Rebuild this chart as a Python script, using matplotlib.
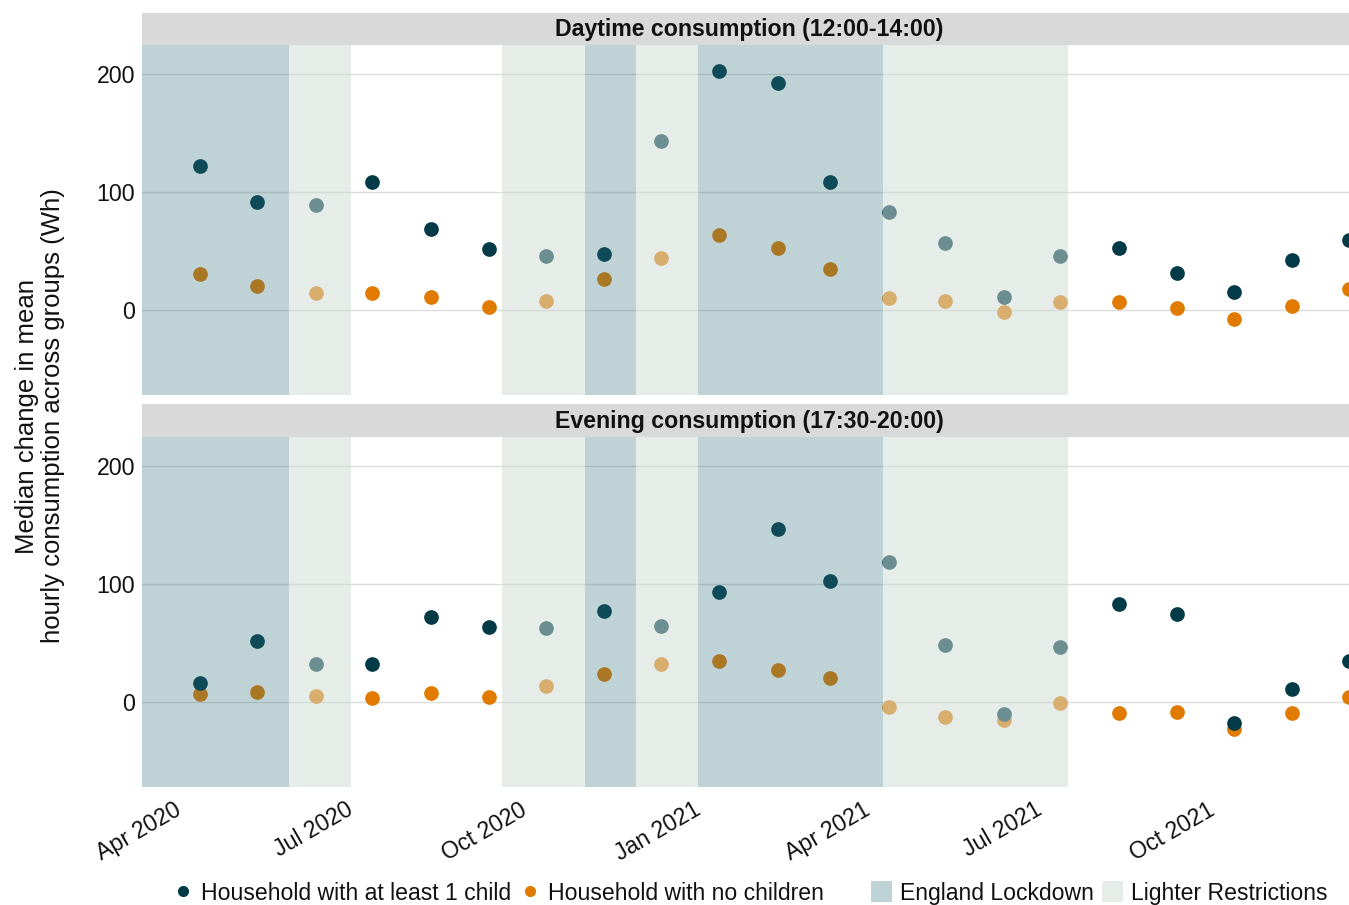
import matplotlib
matplotlib.use("Agg")
import matplotlib.pyplot as plt
from matplotlib.lines import Line2D
from matplotlib.patches import Patch
import pandas as pd

# ---------------- data ----------------
months = ["2020-04", "2020-05", "2020-06", "2020-07", "2020-08", "2020-09",
          "2020-10", "2020-11", "2020-12", "2021-01", "2021-02", "2021-03",
          "2021-04", "2021-05", "2021-06", "2021-07", "2021-08", "2021-09",
          "2021-10", "2021-11", "2021-12"]

day_child = [122, 91, 89, 108, 68, 51, 45, 47, 143, 202, 192, 108,
             83, 56, 11, 45, 52, 31, 15, 42, 59]
day_none = [30, 20, 14, 14, 11, 2, 7, 26, 44, 63, 52, 34,
            10, 7, -2, 6, 6, 1, -8, 3, 17]
eve_child = [16, 51, 32, 32, 72, 63, 62, 77, 64, 93, 146, 102,
             118, 48, -11, 46, 83, 74, -18, 11, 34]
eve_none = [6, 8, 5, 3, 7, 4, 13, 23, 32, 34, 27, 20,
            -5, -13, -16, -1, -10, -9, -23, -10, 4]

lockdown_periods = [("2020-03-01", "2020-06-01"),
                    ("2020-11-05", "2020-12-02"),
                    ("2021-01-04", "2021-04-12")]
lighter_periods = [("2020-06-01", "2020-07-04"),
                   ("2020-09-22", "2020-11-05"),
                   ("2020-12-02", "2021-01-04"),
                   ("2021-04-12", "2021-07-19")]

tick_dates = ["2020-04-01", "2020-07-01", "2020-10-01", "2021-01-01",
              "2021-04-01", "2021-07-01", "2021-10-01"]
tick_labels = ["Apr 2020", "Jul 2020", "Oct 2020", "Jan 2021",
               "Apr 2021", "Jul 2021", "Oct 2021"]

panel_titles = ["Daytime consumption (12:00-14:00)",
                "Evening consumption (17:30-20:00)"]
series_labels = ["Household with at least 1 child", "Household with no children"]
shade_labels = ["England Lockdown", "Lighter Restrictions"]

# ---------------- style ----------------
plt.rcParams['font.family'] = ['Liberation Sans', 'DejaVu Sans']
FS = 16.7
C_CHILD = "#023a47"
C_NONE = "#e07b00"
C_LOCK = "#2d707d"
A_LOCK = 0.30
C_LIGHT = "#cfddd5"
A_LIGHT = 0.52

x = pd.to_datetime([m + "-15" for m in months])
xlim = (pd.Timestamp("2020-03-15"), pd.Timestamp("2021-12-15"))

fig = plt.figure(figsize=(13.49, 9.05), dpi=100)
W, H = 1349.0, 905.0

def pax(l, t, r, b):
    return [l / W, 1 - b / H, (r - l) / W, (b - t) / H]

panels = [(pax(142, 45, 1349, 395), pax(142, 13, 1349, 45), day_child, day_none),
          (pax(142, 437, 1349, 787), pax(142, 404, 1349, 437), eve_child, eve_none)]

for i, (prect, srect, ych, yno) in enumerate(panels):
    ax = fig.add_axes(prect)
    ax.set_xlim(*xlim)
    ax.set_ylim(-72.5, 224.3)
    for s in ax.spines.values():
        s.set_visible(False)
    ax.set_yticks([0, 100, 200])
    ax.yaxis.grid(True, color="#dcdcdc", linewidth=1.0, zorder=0)
    ax.set_axisbelow(True)
    ax.tick_params(axis='both', length=0, labelsize=FS, colors="#111111")
    ax.tick_params(axis='y', pad=5)
    ax.set_xticks(pd.to_datetime(tick_dates))
    if i == 1:
        ax.set_xticklabels(tick_labels, rotation=30, ha='right', va='top',
                           rotation_mode='anchor')
        ax.tick_params(axis='x', pad=8)
    else:
        ax.set_xticklabels([])

    ax.scatter(x, yno, s=112, color=C_NONE, zorder=2, linewidths=0)
    ax.scatter(x, ych, s=112, color=C_CHILD, zorder=2, linewidths=0)

    for a, b in lockdown_periods:
        ax.axvspan(pd.Timestamp(a), pd.Timestamp(b), color=C_LOCK, alpha=A_LOCK,
                   linewidth=0, zorder=3)
    for a, b in lighter_periods:
        ax.axvspan(pd.Timestamp(a), pd.Timestamp(b), color=C_LIGHT, alpha=A_LIGHT,
                   linewidth=0, zorder=3)

    sax = fig.add_axes(srect)
    sax.set_facecolor("#d9d9d9")
    sax.set_xticks([]); sax.set_yticks([])
    for s in sax.spines.values():
        s.set_visible(False)
    sax.text(0.503, 0.47, panel_titles[i], transform=sax.transAxes, ha='center',
             va='center', fontsize=16.7, fontweight='bold', color="#111111")

fig.text(40 / W, 1 - 416 / H,
         "Median change in mean\nhourly consumption across groups (Wh)",
         rotation=90, ha='center', va='center', fontsize=18.5, linespacing=1.08,
         color="#111111")

h1 = [Line2D([], [], marker='o', linestyle='none', markersize=7, color=C_CHILD),
      Line2D([], [], marker='o', linestyle='none', markersize=7, color=C_NONE)]
leg1 = fig.legend(h1, series_labels, loc='center left',
                  bbox_to_anchor=(171 / W, (H - 893) / H), ncol=2, frameon=False,
                  fontsize=16.6, borderpad=0, borderaxespad=0, handlelength=1.0,
                  handletextpad=0.3, columnspacing=0.3)
h2 = [Patch(facecolor=C_LOCK, alpha=A_LOCK, linewidth=0),
      Patch(facecolor=C_LIGHT, alpha=A_LIGHT, linewidth=0)]
leg2 = fig.legend(h2, shade_labels, loc='center left',
                  bbox_to_anchor=(871 / W, (H - 893) / H), ncol=2, frameon=False,
                  fontsize=16.6, borderpad=0, borderaxespad=0, handlelength=0.9,
                  handleheight=1.0, handletextpad=0.35, columnspacing=0.35)
for t in leg1.get_texts() + leg2.get_texts():
    t.set_color("#111111")

fig.savefig("out.png", dpi=100)
